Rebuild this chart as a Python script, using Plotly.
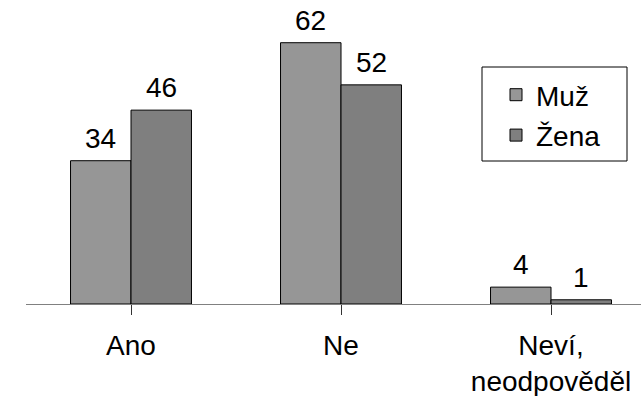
import plotly.graph_objects as go

# Survey answers split by gender
categories = ["Ano", "Ne", "Neví,<br>neodpověděl"]
muz = [34, 62, 4]
zena = [46, 52, 1]
series_names = ["Muž", "Žena"]

FONT = "Arial, Liberation Sans, sans-serif"
FS = 28
COL_MUZ = "#969696"
COL_ZENA = "#7f7f7f"
BARGAP = 0.424

W, H = 641, 396
ML, MR, MT, MB = 26, 0, 9, 92

fig = go.Figure()
for name, vals, col in [(series_names[0], muz, COL_MUZ), (series_names[1], zena, COL_ZENA)]:
    fig.add_trace(go.Bar(
        x=list(range(len(categories))), y=vals, name=name,
        legendgroup=name,
        marker=dict(color=col, line=dict(color="black", width=1)),
        hoverinfo="skip",
    ))

# value labels above each bar
half = (1 - BARGAP) / 4
for i in range(len(categories)):
    for vals, off in [(muz, -half), (zena, half)]:
        fig.add_annotation(
            x=i + off, y=vals[i], text=str(vals[i]),
            showarrow=False, yanchor="bottom", yshift=6, borderpad=0,
            font=dict(family=FONT, size=FS, color="black"),
        )

plot_w = W - ML - MR
plot_h = H - MT - MB
span = plot_w / 210.0

fig.update_layout(
    width=W, height=H, autosize=False,
    margin=dict(l=ML, r=MR, t=MT, b=MB, autoexpand=False),
    paper_bgcolor="white", plot_bgcolor="white",
    barmode="group", bargap=BARGAP, bargroupgap=0,
    font=dict(family=FONT, size=FS, color="black"),
    showlegend=True,
    legend=dict(
        x=(496 - ML) / plot_w, y=1 - (70 - MT) / plot_h,
        xanchor="left", yanchor="top",
        bgcolor="rgba(0,0,0,0)", borderwidth=0,
        traceorder="grouped", tracegroupgap=1,
        font=dict(family=FONT, size=FS, color="black"),
    ),
    xaxis=dict(
        range=[-0.5, -0.5 + span], automargin=False,
        tickmode="array", tickvals=list(range(len(categories))), ticktext=categories,
        tickson="boundaries", ticks="outside", ticklen=10, tickwidth=1, tickcolor="#333333",
        showline=True, linecolor="#808080", linewidth=1,
        showgrid=False, zeroline=False,
        ticklabelstandoff=6,
        tickfont=dict(family=FONT, size=FS, color="black"),
    ),
    yaxis=dict(range=[0, 70], visible=False, showgrid=False, zeroline=False, automargin=False),
    shapes=[dict(
        type="rect", xref="paper", yref="paper",
        x0=(482 - ML) / plot_w, x1=(627 - ML) / plot_w,
        y0=1 - (161 - MT) / plot_h, y1=1 - (67 - MT) / plot_h,
        line=dict(color="black", width=1), fillcolor="rgba(0,0,0,0)",
    )],
)

fig.write_html("out.html")
